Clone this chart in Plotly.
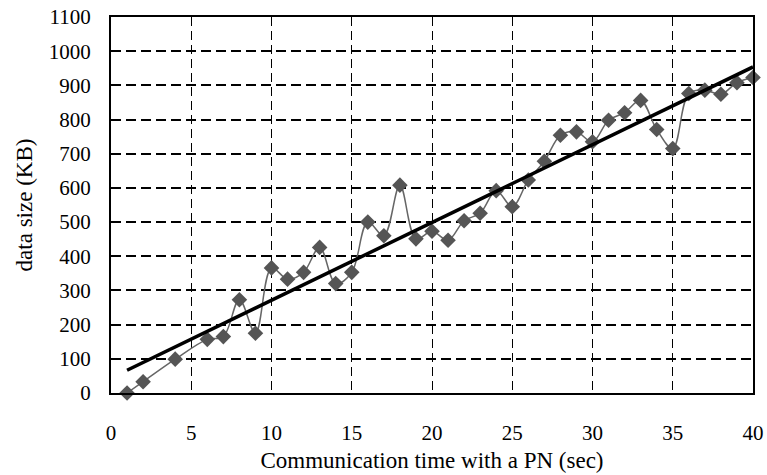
import numpy as np
import plotly.graph_objects as go

time_sec = [1, 2, 4, 6, 7, 8, 9, 10, 11, 12, 13, 14, 15, 16, 17, 18, 19, 20, 21, 22,
            23, 24, 25, 26, 27, 28, 29, 30, 31, 32, 33, 34, 35, 36, 37, 38, 39, 40]
data_kb = [0, 33, 99, 157, 165, 273, 175, 366, 333, 353, 426, 320, 353, 500, 460, 608,
           451, 473, 447, 504, 526, 592, 545, 623, 678, 754, 764, 735, 798, 820, 856,
           771, 715, 876, 886, 874, 908, 923]
x_ticks = [0, 5, 10, 15, 20, 25, 30, 35, 40]
y_ticks = [0, 100, 200, 300, 400, 500, 600, 700, 800, 900, 1000, 1100]

slope, intercept = np.polyfit(time_sec, data_kb, 1)
trend_x = [time_sec[0], time_sec[-1]]
trend_y = [slope * v + intercept for v in trend_x]

font = "Liberation Serif"
fig = go.Figure()
fig.add_trace(go.Scatter(
    x=time_sec, y=data_kb, mode="lines+markers",
    line=dict(color="#666666", width=1.5, shape="spline", smoothing=1.0),
    marker=dict(symbol="diamond", size=12, color="#555555"),
    showlegend=False, cliponaxis=False))
fig.add_trace(go.Scatter(
    x=trend_x, y=trend_y, mode="lines",
    line=dict(color="black", width=3.5), showlegend=False))

fig.update_layout(
    width=767, height=475,
    margin=dict(l=111, r=14, t=17, b=82),
    paper_bgcolor="white", plot_bgcolor="white",
    font=dict(family=font, size=21, color="black"),
)
fig.update_xaxes(
    range=[0, 40], tickvals=x_ticks, ticktext=[str(v) for v in x_ticks],
    showline=True, linecolor="black", linewidth=2, mirror=True,
    showgrid=True, gridcolor="black", gridwidth=1, griddash="9px,5px",
    zeroline=False, ticks="", ticklabelstandoff=20, automargin=False,
    title=dict(text="Communication time with a PN (sec)", standoff=8,
               font=dict(family=font, size=23)),
)
fig.update_yaxes(
    range=[0, 1100], tickvals=y_ticks, ticktext=[str(v) for v in y_ticks],
    showline=True, linecolor="black", linewidth=2, mirror=True,
    showgrid=True, gridcolor="black", gridwidth=1.5, griddash="10px,5px",
    zeroline=False, ticks="", ticklabelstandoff=14, automargin=False,
    title=dict(text="data size (KB)", standoff=10,
               font=dict(family=font, size=23)),
)
fig.write_html("out.html")
